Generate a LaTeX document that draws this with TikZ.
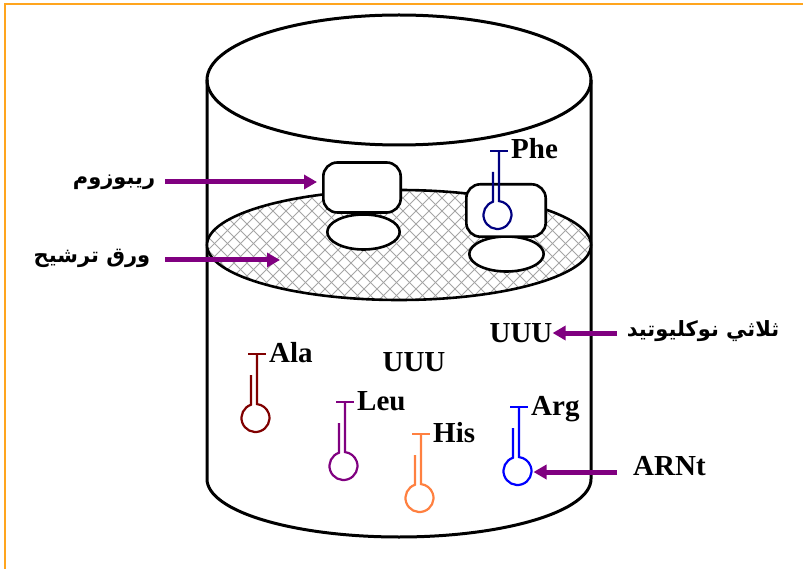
\documentclass[tikz,border=0pt]{standalone}
\usepackage{fontspec}
\setmainfont{Liberation Serif}
\newfontfamily\arabicfont[Script=Arabic]{DejaVu Sans}
\TeXXeTstate=1
\usetikzlibrary{arrows.meta,shapes.geometric}

\definecolor{framecol}{RGB}{255,165,30}
\definecolor{arrowcol}{RGB}{128,0,128}
\definecolor{alacol}{RGB}{128,0,0}
\definecolor{leucol}{RGB}{128,0,128}
\definecolor{hiscol}{RGB}{255,128,64}
\definecolor{argcol}{RGB}{0,0,255}
\definecolor{phecol}{RGB}{0,0,128}
\definecolor{hatchcol}{RGB}{165,165,165}

\tikzset{
  wall/.style={draw=black, line width=3pt},
  subunit/.style={draw=black, line width=2.6pt, fill=white, inner sep=0pt},
  bigsub/.style={subunit, rounded corners=14pt},
  smallsub/.style={subunit, ellipse},
  aa/.style={font=\fontsize{29}{30}\selectfont\bfseries, inner sep=0pt, anchor=base west},
  codon/.style={font=\fontsize{29}{30}\selectfont\bfseries, inner sep=0pt},
  arlabel/.style={font=\arabicfont\fontsize{21}{24}\selectfont\bfseries, inner sep=0pt},
  pointer/.style={draw=arrowcol, line width=5pt, -{Triangle[length=13pt,width=14pt]}},
  stem/.style={line width=2.2pt},
}

% transfer RNA: #1 name, #2 colour, #3 x of the long stem, #4 y of the top bar, #5 amino acid
\newcommand{\drawtrna}[5]{%
  \draw[stem, #2] (#3-9,#4) -- (#3+9,#4);
  \draw[stem, #2] (#3-6,#4+21) -- (#3-6,#4+64-13.26)
    arc[start angle=-108.7, end angle=-443.8, radius=14] -- (#3,#4);
  \coordinate (#1-loop) at (#3+12.5,#4+64);
  \node[aa] (#1-label) at (#3+12,#4+8) {#5};
}

\begin{document}
\begin{tikzpicture}[x=1pt,y=-1pt]
\useasboundingbox (0,0) rectangle (803,569);
\fill[white] (0,0) rectangle (803,569);
\draw[framecol, line width=2pt] (5,590) -- (5,3.8) -- (820,3.8);

% the vessel
\draw[wall] (207,80) -- (207,479) arc[start angle=180, end angle=0, x radius=192, y radius=58] -- (591,80);
\draw[wall] (399,80) ellipse[x radius=192, y radius=65];

% filter paper disc with cross hatching
\begin{scope}
  \clip (399,245) ellipse[x radius=192, y radius=55];
  \fill[white] (200,185) rectangle (600,305);
  \foreach \c in {-120,-107,...,420}
    \draw[hatchcol, line width=0.75pt] (\c+180,180) -- (\c+310,310);
  \foreach \c in {380,393,...,920}
    \draw[hatchcol, line width=0.75pt] (\c-180,180) -- (\c-310,310);
\end{scope}
\draw[line width=2.6pt] (399,245) ellipse[x radius=192, y radius=55];

% ribosomes
\node[smallsub, minimum width=72.4pt, minimum height=35pt] (smL) at (363.5,232) {};
\node[bigsub, minimum width=77.4pt, minimum height=50pt] (ribL) at (362,187.5) {};
\node[smallsub, minimum width=74.4pt, minimum height=35pt] (smR) at (506.5,254) {};
\node[bigsub, minimum width=79.4pt, minimum height=52.4pt] (ribR) at (506,210.5) {};

% transfer RNAs
\drawtrna{Phe}{phecol}{499}{151}{Phe}
\drawtrna{Ala}{alacol}{257}{354}{Ala}
\drawtrna{Leu}{leucol}{345}{402}{Leu}
\drawtrna{His}{hiscol}{421}{434}{His}
\drawtrna{Arg}{argcol}{519}{407}{Arg}

% codons
\node[codon] (uuuC) at (414,362) {UUU};
\node[codon] (uuuR) at (521,333) {UUU};

% labels
\node[arlabel] (ribT) at (114,182) {\beginR ريبوزوم\endR};
\node[arlabel] (filtT) at (92,258) {\beginR ورق ترشيح\endR};
\node[arlabel] (tripT) at (703,331) {\beginR ثلاثي نوكليوتيد\endR};
\node[codon, anchor=base west] (arnt) at (633,475) {ARNt};

% pointers
\coordinate (p1) at (165,182);
\coordinate (p2) at (165,260);
\coordinate (p2e) at (280,260);
\coordinate (p3) at (617,333);
\coordinate (p4) at (617,472);
\draw[pointer, shorten >=5pt] (p1) -- (p1 -| ribL.west);
\draw[pointer] (p2) -- (p2e);
\draw[pointer] (p3) -- (p3 -| uuuR.east);
\draw[pointer, shorten >=2pt] (p4) -- (p4 -| Arg-loop);
\end{tikzpicture}
\end{document}
